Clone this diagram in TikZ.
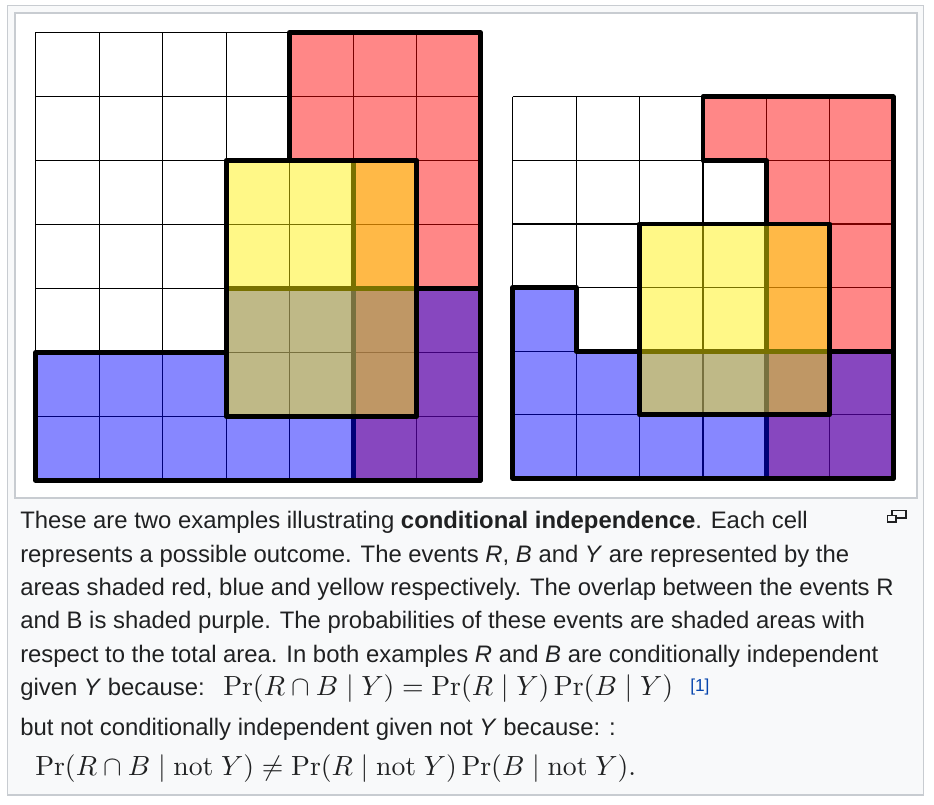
\documentclass[tikz,border=0pt]{standalone}
\usepackage{amsmath}
\usepackage{graphicx}
\usepackage[no-math]{fontspec}
\setmainfont{Liberation Sans}
\definecolor{framegray}{HTML}{C8CCD1}
\definecolor{boxbg}{HTML}{F8F9FA}
\definecolor{txt}{HTML}{202122}
\definecolor{linkblue}{HTML}{0645AD}
\begin{document}
\begin{tikzpicture}[x=0.75pt,y=-0.75pt,
  gridln/.style={line width=0.9pt, black},
  outl/.style={line width=3.6pt, black, line join=round},
  redf/.style={fill=red, fill opacity=0.47},
  bluef/.style={fill=blue, fill opacity=0.47},
  yelf/.style={fill=yellow, fill opacity=0.47},
  captxt/.style={anchor=base west, inner sep=0pt, text=txt, font=\fontsize{17.9pt}{21pt}\selectfont},
  mathtxt/.style={anchor=base west, inner sep=0pt, text=txt},
  iconbox/.style={draw=txt, line width=0.9pt, fill=boxbg}
]
\useasboundingbox (0,0) rectangle (934,804);
\fill[white] (0,0) rectangle (934,804);
\draw[framegray, fill=boxbg, line width=1.2pt] (7.5,5.5) rectangle (923.5,795);
\draw[framegray, fill=white, line width=1pt] (15,13) rectangle (917,498);

% left example
\begin{scope}[shift={(35.7,32.3)}, x=47.625pt, y=-48pt]
  \foreach \i in {0,...,7} {
    \draw[gridln] (\i,0) -- (\i,7);
    \draw[gridln] (0,\i) -- (7,\i);
  }
  \fill[redf] (4,0) -- (7,0) -- (7,7) -- (5,7) -- (5,2) -- (4,2) -- cycle;
  \draw[outl] (4,0) -- (7,0) -- (7,7) -- (5,7) -- (5,2) -- (4,2) -- cycle;
  \fill[bluef] (0,5) -- (3,5) -- (3,4) -- (7,4) -- (7,7) -- (0,7) -- cycle;
  \draw[outl] (0,5) -- (3,5) -- (3,4) -- (7,4) -- (7,7) -- (0,7) -- cycle;
  \fill[yelf] (3,2) rectangle (6,6);
  \draw[outl] (3,2) rectangle (6,6);
\end{scope}

% right example
\begin{scope}[shift={(512.7,96.7)}, x=47.55pt, y=-47.7pt]
  \foreach \i in {0,...,6} {
    \draw[gridln] (\i,0) -- (\i,6);
    \draw[gridln] (0,\i) -- (6,\i);
  }
  \fill[redf] (3,0) -- (6,0) -- (6,6) -- (4,6) -- (4,1) -- (3,1) -- cycle;
  \draw[outl] (3,0) -- (6,0) -- (6,6) -- (4,6) -- (4,1) -- (3,1) -- cycle;
  \fill[bluef] (0,3) -- (1,3) -- (1,4) -- (6,4) -- (6,6) -- (0,6) -- cycle;
  \draw[outl] (0,3) -- (1,3) -- (1,4) -- (6,4) -- (6,6) -- (0,6) -- cycle;
  \fill[yelf] (2,2) rectangle (5,5);
  \draw[outl] (2,2) rectangle (5,5);
\end{scope}

% enlarge icon
\draw[iconbox] (892,510.5) rectangle (906,518);
\draw[iconbox] (887.5,515.5) rectangle (896,522);

% caption
\node[captxt] (l1) at (20,528) {These are two examples illustrating \textbf{conditional independence}. Each cell};
\node[captxt] (l2) at (20,562) {represents a possible outcome. The events \textit{R}, \textit{B} and \textit{Y} are represented by the};
\node[captxt] (l3) at (20,595) {areas shaded red, blue and yellow respectively. The overlap between the events R};
\node[captxt] (l4) at (20,628) {and B is shaded purple. The probabilities of these events are shaded areas with};
\node[captxt] (l5) at (20,662) {respect to the total area. In both examples \textit{R} and \textit{B} are conditionally independent};
\node[captxt] (l6) at (20,695) {given \textit{Y} because:};
\node[mathtxt] (f1) at (223,695) {\scalebox{2.08}{$\Pr(R\cap B\mid Y)=\Pr(R\mid Y)\Pr(B\mid Y)$}};
\node[anchor=base west, inner sep=0pt, text=linkblue, font=\fontsize{13pt}{15pt}\selectfont] (ref) at (690,691) {[1]};
\node[captxt] (l7) at (20,735) {but not conditionally independent given not \textit{Y} because: :};
\node[mathtxt] (f2) at (35,775) {\scalebox{2.08}{$\Pr(R\cap B\mid \mathrm{not}\ Y)\neq\Pr(R\mid \mathrm{not}\ Y)\Pr(B\mid \mathrm{not}\ Y).$}};
\end{tikzpicture}
\end{document}
